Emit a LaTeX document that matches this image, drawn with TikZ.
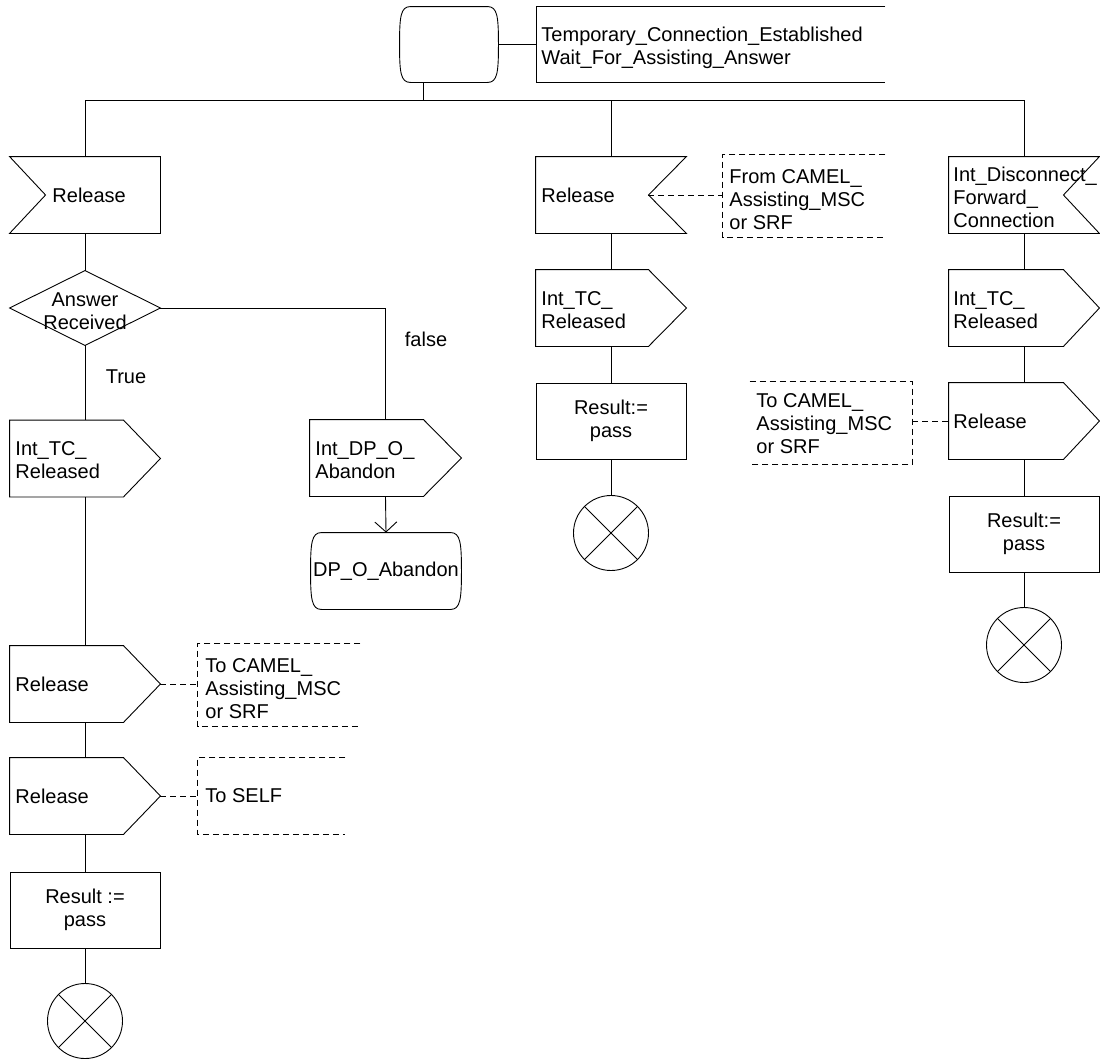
\documentclass[tikz,border=0pt]{standalone}
\usepackage{fontspec}
\setmainfont{Liberation Sans}
\usetikzlibrary{calc,arrows.meta}
\newcommand\sdlfont{\fontsize{20}{23}\selectfont}
\newcommand\sdlout[2]{\draw (#1.north west) -- ($(#1.north east)+(-#2,0)$) -- (#1.east) -- ($(#1.south east)+(-#2,0)$) -- (#1.south west) -- cycle;}
\newcommand\sdlinl[2]{\draw (#1.north west) -- (#1.north east) -- (#1.south east) -- (#1.south west) -- ($(#1.west)+(#2,0)$) -- cycle;}
\newcommand\sdlinr[2]{\draw (#1.north west) -- (#1.north east) -- ($(#1.east)+(-#2,0)$) -- (#1.south east) -- (#1.south west) -- cycle;}
\newcommand\sdlstate[1]{\draw ($(#1.north west)+(11,0)$) -- ($(#1.north east)+(-11,0)$) .. controls ($(#1.north east)+(-1,0)$) and ($(#1.east)+(0,-28)$) .. (#1.east) .. controls ($(#1.east)+(0,28)$) and ($(#1.south east)+(-1,0)$) .. ($(#1.south east)+(-11,0)$) -- ($(#1.south west)+(11,0)$) .. controls ($(#1.south west)+(1,0)$) and ($(#1.west)+(0,28)$) .. (#1.west) .. controls ($(#1.west)+(0,-28)$) and ($(#1.north west)+(1,0)$) .. cycle;}
\newcommand\sdlstop[1]{\draw (#1.north west) -- (#1.south east) (#1.north east) -- (#1.south west);}
\newcommand\sdlcmtl[1]{\draw[cmt] (#1.north east) -- (#1.north west) -- (#1.south west) -- (#1.south east);}
\newcommand\sdlcmtr[1]{\draw[cmt] (#1.north west) -- (#1.north east) -- (#1.south east) -- (#1.south west);}
\begin{document}
\begin{tikzpicture}[x=1pt,y=-1pt,line width=0.9pt,
  sym/.style={draw=none,rectangle,inner sep=0pt,minimum width=150pt,minimum height=76pt},
  tasksym/.style={sym,draw,align=center,font=\sdlfont},
  lbl/.style={anchor=west,align=left,inner sep=0pt,font=\sdlfont},
  ctr/.style={align=center,inner sep=0pt,font=\sdlfont},
  stopsym/.style={draw,circle,inner sep=0pt,minimum size=75pt},
  cmt/.style={dash pattern=on 6pt off 4pt}]
\useasboundingbox (0,0) rectangle (1100,1061);

% top state and its comment
\node[sym,minimum width=98pt,minimum height=75pt] (st) at (449,44.5) {};
\sdlstate{st}
\node[sym,minimum width=348pt,minimum height=75pt] (stc) at (711,44.5) {};
\draw (stc.north east) -- (stc.north west) -- (stc.south west) -- (stc.south east);
\node[lbl] (stct) at (541,48) {Temporary\_Connection\_Established\\Wait\_For\_Assisting\_Answer};
\draw (st.east) -- (stc.west);
\coordinate (j) at (423,100);

% left column
\node[sym] (L1) at (85,195) {};
\sdlinl{L1}{36}
\node[lbl] (L1t) at (52,195) {Release};
\node[sym,minimum height=74pt] (D) at (85,308) {};
\draw (D.north) -- (D.east) -- (D.south) -- (D.west) -- cycle;
\node[ctr] (Dt) at (85,311) {Answer\\Received};
\node[sym] (L2) at (85,458.5) {};
\sdlout{L2}{37}
\node[lbl] (L2t) at (15,460) {Int\_TC\_\\Released};
\node[sym] (L3) at (85,684) {};
\sdlout{L3}{37}
\node[lbl] (L3t) at (15,684) {Release};
\node[sym] (L4) at (85,796) {};
\sdlout{L4}{37}
\node[lbl] (L4t) at (15,796) {Release};
\node[tasksym] (L5) at (85,910) {Result :=\\pass};
\node[stopsym] (L6) at (85,1021) {};
\sdlstop{L6}
\node[sym,minimum width=162pt,minimum height=82pt] (C1) at (279,685) {};
\sdlcmtl{C1}
\node[lbl] (C1t) at (205,689) {To CAMEL\_\\Assisting\_MSC\\or SRF};
\node[sym,minimum width=147pt,minimum height=76pt] (C2) at (271.5,796) {};
\sdlcmtl{C2}
\node[lbl] (C2t) at (205,796) {To SELF};
\node[ctr] (truet) at (126,377) {True};
\node[ctr] (falset) at (426,339) {false};

% DP branch
\node[sym,minimum width=151pt] (O1) at (385.5,458) {};
\sdlout{O1}{38}
\node[lbl] (O1t) at (315,460) {Int\_DP\_O\_\\Abandon};
\node[sym,minimum width=150pt] (T1) at (386,571) {};
\sdlstate{T1}
\node[ctr] (T1t) at (386,571) {DP\_O\_Abandon};

% middle column
\node[sym] (M1) at (611,195) {};
\sdlinr{M1}{38}
\node[lbl] (M1t) at (541,195) {Release};
\node[sym,minimum width=162pt,minimum height=82pt] (MC) at (804,196) {};
\sdlcmtl{MC}
\node[lbl] (MCt) at (729,200) {From CAMEL\_\\Assisting\_MSC\\or SRF};
\node[sym] (M2) at (611,308) {};
\sdlout{M2}{38}
\node[lbl] (M2t) at (541,310) {Int\_TC\_\\Released};
\node[tasksym] (M3) at (611,421) {Result:=\\pass};
\node[stopsym] (M4) at (611,533) {};
\sdlstop{M4}

% right column
\node[sym] (R1) at (1024,195) {};
\sdlinr{R1}{36}
\node[lbl] (R1t) at (953,197) {Int\_Disconnect\_\\Forward\_\\Connection};
\node[sym] (R2) at (1024,308) {};
\sdlout{R2}{36}
\node[lbl] (R2t) at (953,310) {Int\_TC\_\\Released};
\node[sym] (R3) at (1024,421) {};
\sdlout{R3}{36}
\node[lbl] (R3t) at (953,421) {Release};
\node[sym,minimum width=162pt,minimum height=82pt] (RC) at (831,423) {};
\sdlcmtr{RC}
\node[lbl] (RCt) at (756,424) {To CAMEL\_\\Assisting\_MSC\\or SRF};
\node[tasksym] (R4) at (1024,534) {Result:=\\pass};
\node[stopsym] (R5) at (1024,645) {};
\sdlstop{R5}

% connectors
\draw (j |- st.south) -- (j);
\draw (L1.north) -- (L1.north |- j) -- (R1.north |- j) -- (R1.north);
\draw (M1.north |- j) -- (M1.north);
\draw (L1.south) -- (D.north);
\draw (D.south) -- (L2.north);
\draw (L2.south) -- (L3.north);
\draw (L3.south) -- (L4.north);
\draw (L4.south) -- (L5.north);
\draw (L5.south) -- (L6.north);
\draw (D.east) -| (O1.north);
\draw[-{Straight Barb[length=10pt,width=22pt]}] (O1.south) -- (T1.north);
\draw[cmt] (L3.east) -- (L3.east -| C1.west);
\draw[cmt] (L4.east) -- (C2.west);
\draw[cmt] ($(M1.east)+(-38,0)$) -- (MC.west |- M1.east);
\draw (M1.south) -- (M2.north);
\draw (M2.south) -- (M3.north);
\draw (M3.south) -- (M4.north);
\draw (R1.south) -- (R2.north);
\draw (R2.south) -- (R3.north);
\draw (R3.south) -- (R4.north);
\draw (R4.south) -- (R5.north);
\draw[cmt] (RC.east |- R3.west) -- (R3.west);
\end{tikzpicture}
\end{document}
